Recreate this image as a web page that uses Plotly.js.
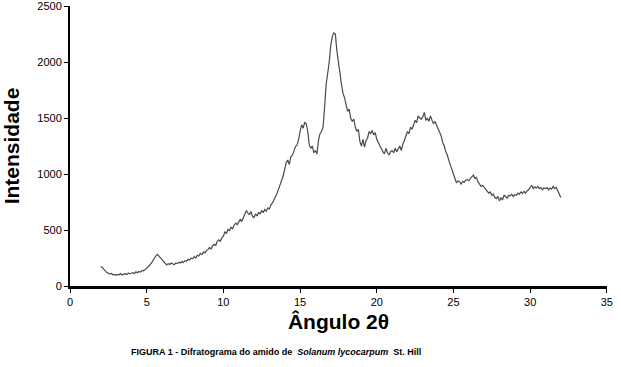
<!DOCTYPE html>
<html>
<head>
<meta charset="utf-8">
<script src="https://cdn.plot.ly/plotly-3.0.1.min.js"></script>
<style>html,body{margin:0;padding:0;background:#fff;}#chart{width:621px;height:367px;}</style>
</head>
<body>
<div id="chart"></div>
<script>
// 2θ from 2.0 to 32.0 in steps of 0.1
const angleStart = 2.0;
const angleStep = 0.1;
const intensity = [
  175, 168, 150, 132, 120, 115, 108, 112, 100, 104,
  96, 104, 100, 112, 98, 106, 110, 102, 116, 108,
  112, 120, 110, 126, 118, 130, 124, 140, 136, 152,
  160, 172, 185, 205, 225, 250, 270, 282, 265, 250,
  232, 215, 195, 188, 200, 192, 205, 198, 190, 206,
  200, 212, 205, 218, 210, 226, 222, 238, 232, 248,
  244, 262, 250, 275, 268, 292, 280, 305, 296, 318,
  325, 345, 330, 360, 372, 362, 398, 412, 400, 432,
  445, 485, 468, 505, 495, 525, 512, 545, 562, 548,
  578, 595, 578, 615, 645, 675, 650, 638, 665, 622,
  612, 645, 625, 660, 642, 675, 655, 684, 668, 698,
  688, 725, 742, 768, 805, 828, 865, 905, 938, 985,
  1045, 1105, 1125, 1085, 1155, 1168, 1205, 1245, 1258, 1305,
  1380, 1440, 1410, 1460, 1450, 1380, 1260, 1230, 1250, 1190,
  1210, 1180, 1300, 1360, 1380, 1420, 1600, 1800, 1900, 2000,
  2150, 2230, 2260, 2250, 2100, 1980, 1900, 1800, 1720, 1680,
  1620, 1560, 1580, 1500, 1470, 1490, 1420, 1380, 1400, 1290,
  1250, 1310, 1240, 1300, 1320, 1380, 1360, 1390, 1350, 1370,
  1310, 1280, 1250, 1230, 1200, 1180, 1230, 1190, 1170, 1200,
  1210, 1190, 1230, 1200, 1220, 1250, 1210, 1270, 1300, 1340,
  1380, 1360, 1420, 1400, 1450, 1480, 1460, 1520, 1500, 1490,
  1510, 1550, 1480, 1500, 1470, 1520, 1480, 1450, 1470, 1440,
  1410, 1380, 1340, 1280, 1250, 1200, 1170, 1120, 1080, 1040,
  980, 950, 920, 940, 930, 910, 935, 925, 945, 950,
  940, 960, 975, 990, 960, 970, 930, 910, 890, 900,
  880, 860, 850, 830, 840, 810, 820, 790, 780, 800,
  760, 790, 770, 810, 800, 785, 810, 805, 820, 800,
  815, 810, 830, 820, 840, 825, 845, 830, 850, 860,
  880, 900, 870, 885, 875, 890, 870, 880, 860, 875,
  870, 880, 860, 875, 865, 890, 870, 880, 850, 820,
  790
];
const angles = intensity.map((_, i) => +(angleStart + i * angleStep).toFixed(1));
const xTicks = [0, 5, 10, 15, 20, 25, 30, 35];
const yTicks = [0, 500, 1000, 1500, 2000, 2500];

const trace = {
  x: angles, y: intensity, type: 'scatter', mode: 'lines',
  line: {color: '#4a4a4a', width: 1.2}, hoverinfo: 'skip'
};

const layout = {
  width: 621, height: 367,
  margin: {l: 70, r: 14, t: 6, b: 81},
  paper_bgcolor: '#ffffff', plot_bgcolor: '#ffffff',
  showlegend: false,
  font: {family: 'Liberation Sans, Arial, sans-serif', color: '#000'},
  xaxis: {
    range: [0, 35.01], tickvals: xTicks, ticktext: xTicks.map(String),
    showgrid: false, zeroline: false,
    showline: true, linecolor: '#000', linewidth: 3,
    ticks: 'outside', ticklen: 4, tickwidth: 1, tickcolor: '#000',
    tickfont: {size: 11, color: '#000'}, ticklabeloverflow: 'allow',
    title: {text: '<b>Ângulo 2θ</b>', font: {size: 21, color: '#000'}, standoff: 8}
  },
  yaxis: {
    range: [0, 2501], tickvals: yTicks, ticktext: yTicks.map(String),
    showgrid: false, zeroline: false,
    showline: true, linecolor: '#000', linewidth: 2,
    ticks: 'outside', ticklen: 4, tickwidth: 1, tickcolor: '#000',
    tickfont: {size: 11, color: '#000'}, ticklabeloverflow: 'allow',
    title: {text: '<b>Intensidade</b>', font: {size: 21, color: '#000'}, standoff: 14}
  },
  annotations: [{
    xref: 'paper', yref: 'paper', x: 0.384, y: -0.236, yanchor: 'middle', xanchor: 'center',
    showarrow: false,
    text: '<b>FIGURA 1 - Difratograma do amido de  <i>Solanum lycocarpum</i>  St. Hill</b>',
    font: {size: 9, color: '#000'}
  }]
};

Plotly.newPlot('chart', [trace], layout, {staticPlot: true, displayModeBar: false});
</script>
</body>
</html>
